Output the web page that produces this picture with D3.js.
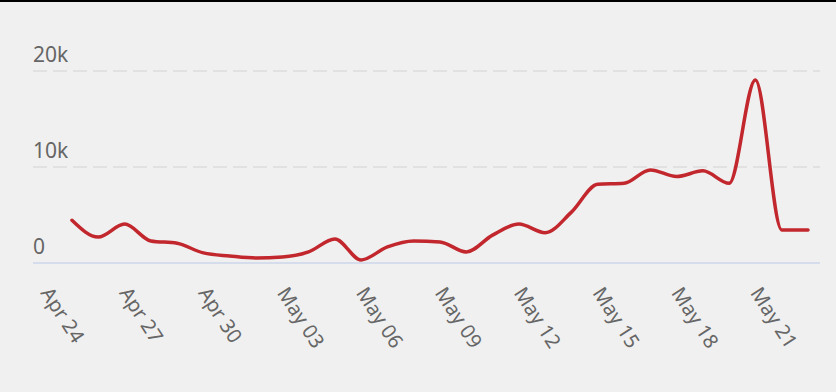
<!DOCTYPE html>
<meta charset="utf-8">
<script src="https://d3js.org/d3.v7.min.js"></script>
<style>
  body { margin: 0; background: #f0f0f0; }
  svg { display: block; }
</style>
<div id="chart"></div>
<script>
// data: one value per day, Apr 24 -> May 22
const dates = ["2021-04-24", "2021-04-25", "2021-04-26", "2021-04-27", "2021-04-28", "2021-04-29",
  "2021-04-30", "2021-05-01", "2021-05-02", "2021-05-03", "2021-05-04", "2021-05-05", "2021-05-06",
  "2021-05-07", "2021-05-08", "2021-05-09", "2021-05-10", "2021-05-11", "2021-05-12", "2021-05-13",
  "2021-05-14", "2021-05-15", "2021-05-16", "2021-05-17", "2021-05-18", "2021-05-19", "2021-05-20",
  "2021-05-21", "2021-05-22"];
const values = [4450, 2700, 4050, 2300, 2050, 1050, 730, 520, 620, 1150, 2500, 320, 1680,
  2300, 2200, 1150, 2900, 4050, 3150, 5300, 8200, 8300, 9700, 9000, 9600, 8300, 19050, 3450, 3450];
const xTickDates = ["2021-04-24", "2021-04-27", "2021-04-30", "2021-05-03", "2021-05-06",
  "2021-05-09", "2021-05-12", "2021-05-15", "2021-05-18", "2021-05-21"];
const yTicks = [0, 10000, 20000];

const width = 836, height = 392;
const parse = d3.utcParse("%Y-%m-%d");
const data = dates.map((d, i) => ({ date: parse(d), value: values[i] }));

const svg = d3.select("#chart").append("svg")
  .attr("width", width).attr("height", height);

svg.append("rect").attr("width", width).attr("height", height).attr("fill", "#f0f0f0");
svg.append("rect").attr("width", width).attr("height", 2).attr("fill", "#000");

const x = d3.scaleUtc()
  .domain(d3.extent(data, d => d.date))
  .range([72, 808]);
const y = d3.scaleLinear()
  .domain([0, 20000])
  .range([263, 71]);

const plotLeft = 33, plotRight = 820;
const fmt = d => d === 0 ? "0" : d3.format("~s")(d);

// gridlines + y labels
const yg = svg.append("g");
yg.selectAll("line").data(yTicks.filter(d => d > 0)).join("line")
  .attr("x1", plotLeft).attr("x2", plotRight)
  .attr("y1", d => y(d)).attr("y2", d => y(d))
  .attr("stroke", "#dcdcdc").attr("stroke-width", 1.5)
  .attr("stroke-dasharray", "14,6");
yg.selectAll("text").data(yTicks).join("text")
  .attr("x", plotLeft).attr("y", d => y(d) - 9.5)
  .attr("font-family", "Noto Sans, sans-serif").attr("font-size", 21)
  .attr("fill", "#666")
  .text(fmt);

// x axis line
svg.append("line")
  .attr("x1", plotLeft).attr("x2", plotRight)
  .attr("y1", y(0)).attr("y2", y(0))
  .attr("stroke", "#ccd6eb").attr("stroke-width", 1.5);

// x labels, rotated
const xfmt = d3.utcFormat("%b %d");
svg.append("g").selectAll("text").data(xTickDates.map(parse)).join("text")
  .attr("transform", d => `translate(${x(d) - 32},293) rotate(57)`)
  .attr("font-family", "Noto Sans, sans-serif").attr("font-size", 20)
  .attr("fill", "#666")
  .text(xfmt);

// the line
svg.append("path")
  .datum(data)
  .attr("fill", "none")
  .attr("stroke", "#c1272d")
  .attr("stroke-width", 3.5)
  .attr("stroke-linecap", "round")
  .attr("stroke-linejoin", "round")
  .attr("d", d3.line()
    .x(d => x(d.date))
    .y(d => y(d.value))
    .curve(d3.curveMonotoneX));
</script>
